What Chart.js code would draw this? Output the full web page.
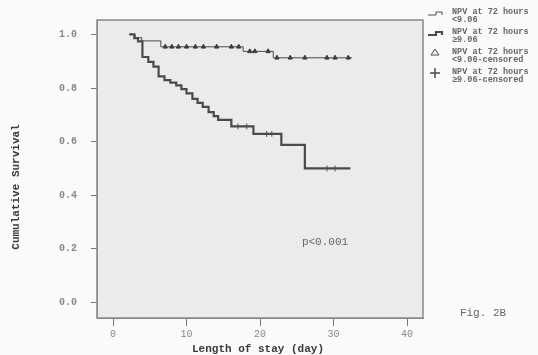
<!DOCTYPE html>
<html>
<head>
<meta charset="utf-8">
<script src="https://cdn.jsdelivr.net/npm/chart.js@4/dist/chart.umd.min.js"></script>
<style>
  html, body { margin: 0; padding: 0; background: #fafafa; }
  #survivalChart { display: block; }
</style>
</head>
<body>
<canvas id="survivalChart" width="538" height="355"></canvas>
<script>
// Kaplan-Meier steps, NPV at 72 hours <9.06 (thin line)
const lowNpvTimes = [2.2, 3.0, 3.9, 6.5, 17.7, 21.8, 32.5];
const lowNpvSurvival = [1.0, 0.988, 0.976, 0.954, 0.937, 0.913, 0.913];
// censored cases for the same group (triangles)
const lowNpvCensorTimes = [7.1, 8.0, 8.9, 10.0, 11.2, 12.3, 14.1, 16.1, 17.1, 18.6, 19.3, 21.1, 22.3, 24.1, 26.1, 29.1, 30.2, 32.0];
const lowNpvCensorSurvival = [0.954, 0.954, 0.954, 0.954, 0.954, 0.954, 0.954, 0.954, 0.954, 0.937, 0.937, 0.937, 0.913, 0.913, 0.913, 0.913, 0.913, 0.913];

// Kaplan-Meier steps, NPV at 72 hours >=9.06 (thick line)
const highNpvTimes = [2.2, 2.9, 3.4, 4.0, 4.8, 5.5, 6.2, 7.0, 7.8, 8.6, 9.3, 10.0, 10.8, 11.5, 12.2, 13.0, 13.7, 14.3, 16.1, 19.1, 22.9, 26.1, 32.3];
const highNpvSurvival = [1.0, 0.986, 0.974, 0.916, 0.898, 0.88, 0.844, 0.83, 0.82, 0.81, 0.796, 0.78, 0.76, 0.745, 0.73, 0.71, 0.695, 0.681, 0.657, 0.629, 0.588, 0.5, 0.5];
// censored cases for the same group (crosses)
const highNpvCensorTimes = [17.0, 18.2, 20.9, 21.6, 29.1, 30.2];
const highNpvCensorSurvival = [0.657, 0.657, 0.629, 0.629, 0.5, 0.5];

// Axis ticks
const xTicks = [0, 10, 20, 30, 40];
const yTicks = [0, 0.2, 0.4, 0.6, 0.8, 1.0];

// Legend entries
const legendLabels = [
    ['NPV at 72 hours', '<9.06'],
    ['NPV at 72 hours', '\u22659.06'],
    ['NPV at 72 hours', '<9.06-censored'],
    ['NPV at 72 hours', '\u22659.06-censored']
];

const monoFont = '"Liberation Mono", "DejaVu Sans Mono", monospace';
const inkColor = '#4a4a4a';

// Helper to zip two arrays into {x, y} points
function toPoints(xs, ys) {
    return xs.map((x, i) => ({ x: x, y: ys[i] }));
}

// Plugin for the grey plot box, titles, annotations and legend
const decorations = {
    id: 'decorations',
    beforeDraw(chart) {
        const ctx = chart.ctx;
        const a = chart.chartArea;
        ctx.save();
        ctx.fillStyle = '#ebebeb';
        ctx.fillRect(a.left, a.top, a.right - a.left, a.bottom - a.top);
        ctx.restore();
    },
    afterDraw(chart) {
        const ctx = chart.ctx;
        const a = chart.chartArea;
        ctx.save();

        // box around the plot
        ctx.strokeStyle = '#888';
        ctx.lineWidth = 1.5;
        ctx.strokeRect(a.left, a.top, a.right - a.left, a.bottom - a.top);

        // axis titles
        ctx.fillStyle = '#3a3a3a';
        ctx.font = 'bold 11px ' + monoFont;
        ctx.textAlign = 'center';
        ctx.textBaseline = 'middle';
        ctx.fillText('Length of stay (day)', 258, 349);

        ctx.save();
        ctx.translate(16, 187);
        ctx.rotate(-Math.PI / 2);
        ctx.fillText('Cumulative Survival', 0, 0);
        ctx.restore();

        // p value and figure label
        ctx.fillStyle = '#666';
        ctx.font = '11px ' + monoFont;
        ctx.fillText('p<0.001', 325, 242);
        ctx.fillText('Fig. 2B', 483, 313);

        // legend
        const lx = 428;
        const rowY = [12, 32, 52, 72];
        ctx.textAlign = 'left';
        ctx.font = 'bold 8.5px ' + monoFont;
        legendLabels.forEach((lines, i) => {
            const y = rowY[i];
            ctx.strokeStyle = inkColor;
            ctx.fillStyle = inkColor;
            if (i < 2) {
                ctx.lineWidth = i === 0 ? 1 : 2.2;
                ctx.beginPath();
                ctx.moveTo(lx, y + 3);
                ctx.lineTo(lx + 8, y + 3);
                ctx.lineTo(lx + 8, y);
                ctx.lineTo(lx + 14, y);
                ctx.lineTo(lx + 14, y + 3);
                ctx.stroke();
            } else if (i === 2) {
                ctx.lineWidth = 1;
                ctx.beginPath();
                ctx.moveTo(lx + 7, y - 3);
                ctx.lineTo(lx + 11, y + 3);
                ctx.lineTo(lx + 3, y + 3);
                ctx.closePath();
                ctx.stroke();
            } else {
                ctx.lineWidth = 1.5;
                ctx.beginPath();
                ctx.moveTo(lx + 2, y + 1);
                ctx.lineTo(lx + 12, y + 1);
                ctx.moveTo(lx + 7, y - 4);
                ctx.lineTo(lx + 7, y + 6);
                ctx.stroke();
            }
            ctx.fillStyle = '#666';
            ctx.textBaseline = 'middle';
            ctx.fillText(lines[0], lx + 24, y);
            ctx.fillText(lines[1], lx + 24, y + 8);
        });

        ctx.restore();
    }
};

const chart = new Chart(document.getElementById('survivalChart'), {
    type: 'line',
    data: {
        datasets: [
            {
                data: toPoints(lowNpvTimes, lowNpvSurvival),
                borderColor: inkColor,
                borderWidth: 1,
                stepped: true,
                pointRadius: 0,
                fill: false
            },
            {
                data: toPoints(highNpvTimes, highNpvSurvival),
                borderColor: inkColor,
                borderWidth: 2.2,
                stepped: true,
                pointRadius: 0,
                fill: false
            },
            {
                type: 'scatter',
                data: toPoints(lowNpvCensorTimes, lowNpvCensorSurvival),
                showLine: false,
                pointStyle: 'triangle',
                pointRadius: 2.5,
                backgroundColor: '#333',
                borderColor: '#333',
                borderWidth: 1
            },
            {
                type: 'scatter',
                data: toPoints(highNpvCensorTimes, highNpvCensorSurvival),
                showLine: false,
                pointStyle: 'cross',
                pointRadius: 3,
                borderColor: '#555',
                borderWidth: 1
            }
        ]
    },
    options: {
        responsive: false,
        animation: false,
        events: [],
        layout: { padding: { left: 0, top: 10, right: 115, bottom: 0 } },
        plugins: {
            legend: { display: false },
            tooltip: { enabled: false }
        },
        scales: {
            x: {
                type: 'linear',
                min: -2.18,
                max: 42.17,
                afterBuildTicks: scale => { scale.ticks = xTicks.map(v => ({ value: v })); },
                afterFit: scale => { scale.height = 37; },
                grid: { drawOnChartArea: false, drawTicks: true, tickLength: 8, color: '#777', tickWidth: 1 },
                border: { display: true, color: '#888' },
                ticks: {
                    padding: 2,
                    color: '#888',
                    font: { family: monoFont, size: 10 },
                    maxRotation: 0,
                    callback: v => String(v)
                }
            },
            y: {
                type: 'linear',
                min: -0.058,
                max: 1.054,
                afterBuildTicks: scale => { scale.ticks = yTicks.map(v => ({ value: v })); },
                afterFit: scale => { scale.width = 97; },
                grid: { drawOnChartArea: false, drawTicks: true, tickLength: 6, color: '#777', tickWidth: 1 },
                border: { display: true, color: '#888' },
                ticks: {
                    padding: 14,
                    color: '#888',
                    font: { family: monoFont, size: 10, weight: 'bold' },
                    callback: v => v.toFixed(1)
                }
            }
        }
    },
    plugins: [decorations]
});
</script>
</body>
</html>
